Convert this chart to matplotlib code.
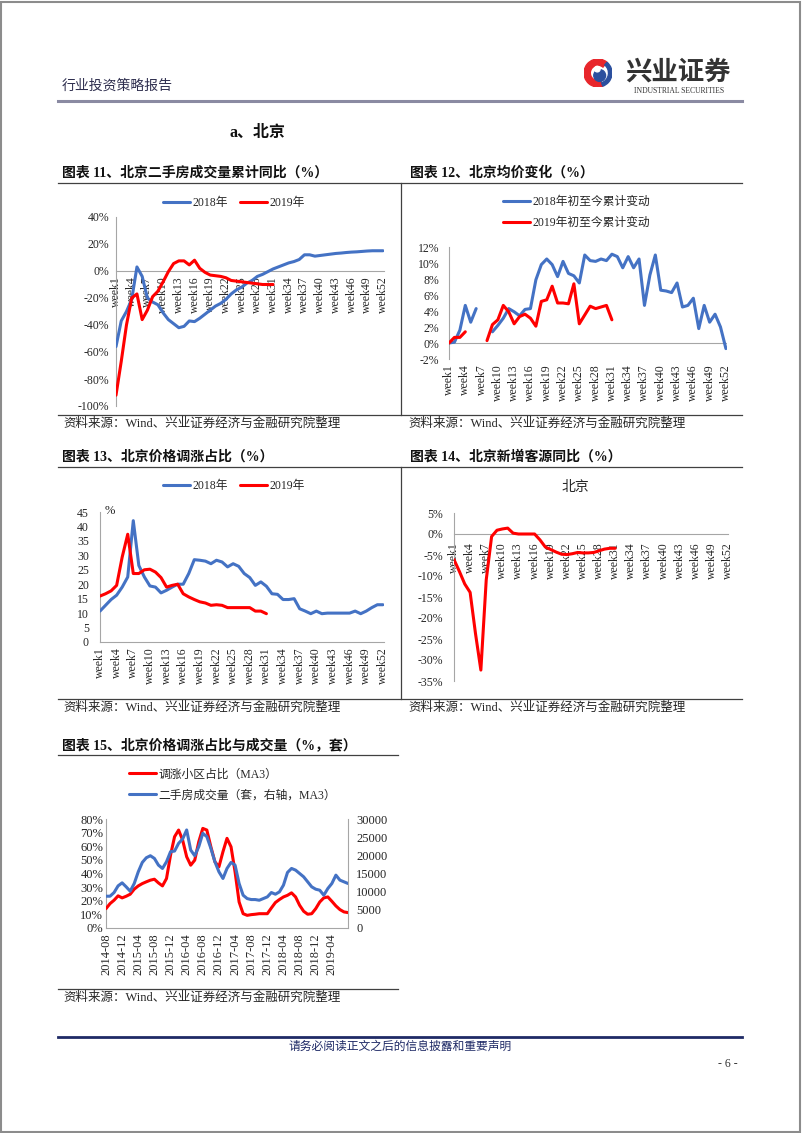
import numpy as np
import pandas as pd
import matplotlib
matplotlib.use('Agg')
import matplotlib.pyplot as plt
from matplotlib.lines import Line2D
from matplotlib.patches import Rectangle, Wedge, Circle
from matplotlib.ticker import FuncFormatter

plt.rcParams['font.family'] = ['Liberation Serif', 'Noto Sans CJK SC']
plt.rcParams['axes.unicode_minus'] = False

W, H = 802, 1133
BLUE = '#4472C4'
RED = '#FF0000'
AXC = '#A6A6A6'
TXT = '#262626'
nan = np.nan

# week categories
weeks = np.arange(1, 53)
week_ticks = np.arange(1, 53, 3)
week_labels = ['week%d' % w for w in week_ticks]

# chart 11: cumulative yoy of second-hand deals (%)
c11_2018 = [-56, -37, -30, -21, 3, -4, -20, -23, -25, -31, -36, -39, -42, -41, -37, -37.5,
            -35, -32, -29, -26, -24, -21, -17, -14, -12, -9, -7, -4, -2.5, -0.5, 1.5, 3,
            4.5, 6, 7, 8.5, 12, 12, 11, 11.5, 12, 12.5, 13, 13.3, 13.7, 14, 14.2, 14.5,
            14.8, 15, 15, 15]
c11_2019 = [-92, -67, -40, -20, -17, -36, -29, -19, -15, -8, -0.5, 5.5, 7.5, 7.5, 4.5, 8,
            2, -1, -3, -3.5, -4, -5, -7, -7.5, -8, -8.5, -9, -9.5, -10, -10, -10]

# chart 12: average price change since start of year (%)
c12_2018 = [0, 0.1, 1.6, 4.7, 2.6, 4.3, nan, nan, 1.4, 2.2, 3.1, 4.3, 3.9, 3.4, 4.2, 4.3,
            7.9, 9.8, 10.5, 9.8, 8.3, 10.2, 8.7, 8.4, 7.5, 11, 10.3, 10.2, 10.5, 10.3, 11.1,
            10.8, 9.4, 10.8, 9.4, 10.5, 4.7, 8.5, 11, 6.6, 6.5, 6.3, 7.5, 4.5, 4.7, 5.6,
            1.8, 4.7, 2.6, 3.6, 2.0, -0.7]
c12_2019 = [0, 0.7, 0.7, 1.4, nan, nan, nan, 0.3, 2.3, 2.9, 4.7, 3.9, 2.4, 3.3, 3.6, 3.1,
            2.1, 5.2, 5.4, 7.1, 5.0, 5.0, 4.9, 7.4, 2.4, 3.5, 4.6, 4.3, 4.5, 4.7, 2.9]

# chart 13: share of listings with price increase (%)
c13_2018 = [10.7, 12.7, 14.7, 16.2, 19, 22.5, 42, 26.5, 22.5, 19.4, 19, 17, 17.9, 19, 20,
            20, 23.7, 28.5, 28.3, 28, 27.1, 28.3, 27.7, 26, 27.1, 26.2, 23.7, 22.3, 19.6,
            20.8, 19.3, 16.7, 16.5, 14.7, 14.7, 15, 11.5, 10.7, 9.8, 10.7, 9.8, 10, 10, 10,
            10, 10, 10.7, 9.8, 10.7, 11.9, 12.9, 12.9]
c13_2019 = [15.9, 16.7, 17.7, 19.6, 29.4, 37.3, 23.7, 23.7, 25, 25.2, 24.2, 22.3, 19, 19.6,
            20, 16.7, 15.6, 14.7, 13.9, 13.5, 12.7, 12.9, 12.7, 11.9, 11.9, 11.9, 11.9,
            11.9, 10.7, 10.7, 9.8]

# chart 14: new buyers yoy (%)
c14_2019 = [-6.1, -8.9, -11.9, -13.9, -23.7, -32.4, -10.9, -0.6, 0.9, 1.2, 1.4, 0.2, 0, 0,
            0, 0, -1.4, -3.1, -3.7, -4.3, -4.8, -4.9, -4.7, -4.4, -4.5, -4.5, -4.4, -4.0,
            -3.6, -3.4, -3.4]

# chart 15: monthly, 2014-08 .. 2019-08
months = pd.date_range('2014-08-01', periods=61, freq='MS').strftime('%Y-%m').tolist()
rise_share = [14.2, 17.9, 20.4, 23.6, 22.1, 23.3, 24.8, 28.5, 30.9, 32.6, 33.9, 35.1, 35.8,
              33.1, 30.9, 36.3, 53.5, 67, 71.9, 64.5, 52.3, 46.1, 49.8, 63.3, 73.1, 71.9,
              59.6, 48.6, 44.9, 56, 65.8, 59.6, 41.2, 19.1, 10.5, 9.3, 9.8, 10.1, 10.5, 10.5,
              10.5, 14.7, 18.7, 20.9, 22.8, 24, 25.8, 22.8, 16.7, 12.3, 10.1, 10.5, 14.2,
              19.1, 22.1, 22.8, 19.6, 16.2, 13.5, 11.8, 11.3]
deals = [8750, 8750, 9760, 11600, 12430, 11330, 10130, 12250, 15470, 18050, 19340, 19890,
         19150, 17310, 16390, 18230, 21000, 21180, 23300, 24500, 26980, 21450, 19890, 22380,
         26060, 25140, 21920, 18230, 15470, 13630, 16390, 18050, 17310, 12250, 9020, 8100,
         7830, 7830, 7640, 8100, 8560, 9760, 9300, 9940, 11790, 15290, 16390, 15930, 15010,
         14090, 12710, 11330, 10680, 10400, 9020, 10870, 12250, 14550, 13170, 12710, 12250]

source = '资料来源：Wind、兴业证券经济与金融研究院整理'

fig = plt.figure(figsize=(W / 100, H / 100), dpi=100)


def add_ax(l, t, r, b):
    return fig.add_axes([l / W, 1 - b / H, (r - l) / W, (b - t) / H])


def hline(y, x0, x1, color='#404040', lw=0.9):
    fig.add_artist(Line2D([x0 / W, x1 / W], [1 - y / H, 1 - y / H], color=color, lw=lw,
                          transform=fig.transFigure))


def vline(x, y0, y1, color='#404040', lw=0.9):
    fig.add_artist(Line2D([x / W, x / W], [1 - y0 / H, 1 - y1 / H], color=color, lw=lw,
                          transform=fig.transFigure))


def ftext(x, y, s, **kw):
    kw.setdefault('va', 'center')
    fig.text(x / W, 1 - y / H, s, **kw)


def style_ax(ax, ypad, xpad, size=8.5):
    for s in ['top', 'right']:
        ax.spines[s].set_visible(False)
    ax.spines['left'].set_color(AXC)
    ax.spines['bottom'].set_color(AXC)
    ax.tick_params(length=0, colors=TXT, labelsize=size)
    ax.tick_params(axis='y', pad=ypad)
    ax.tick_params(axis='x', pad=xpad, labelrotation=90)
    ax.set_axisbelow(True)
    ax.patch.set_alpha(0)


def add_legend(ax, x, y, ncol, handles=None, labelspacing=0.8, columnspacing=1.0):
    kw = dict(loc='center left', bbox_to_anchor=(x / W, 1 - y / H),
              bbox_transform=fig.transFigure, ncol=ncol, frameon=False, fontsize=8.5,
              handlelength=2.3, handletextpad=0.2, columnspacing=columnspacing,
              labelspacing=labelspacing, borderpad=0, borderaxespad=0)
    if handles is not None:
        kw['handles'] = handles
    leg = ax.legend(**kw)
    for t in leg.get_texts():
        t.set_color(TXT)


pct = FuncFormatter(lambda v, p: '%d%%' % v)
line_kw = dict(lw=2.2, solid_joinstyle='round', solid_capstyle='round', zorder=3)

# ---------------- page frame, header, footer ----------------
fig.add_artist(Rectangle((0.001, 0.001), 0.997, 0.997, fill=False, edgecolor='#8c8c8c',
                         lw=1.5, transform=fig.transFigure))
ftext(62, 86, '行业投资策略报告', fontsize=10, color='#2f2f4f')
hline(101, 58, 742, color='#8a8aa2', lw=2.2)

# logo
lax = add_ax(584, 59, 612, 87)
lax.set_xlim(-1, 1)
lax.set_ylim(-1, 1)
lax.set_aspect('equal')
lax.axis('off')
lax.add_patch(Wedge((0, 0), 1, 50, 290, width=0.45, color='#e8262b'))
lax.add_patch(Wedge((0, 0), 1, -70, 50, width=0.25, color='#2b4f9e'))
lax.add_patch(Circle((0.12, -0.18), 0.42, color='#2b4f9e'))
lax.add_patch(Circle((-0.05, 0.28), 0.2, color='white'))
ftext(678, 72, '兴业证券', fontsize=19, fontweight='bold', color='#333333', ha='center')
ftext(679, 91, 'INDUSTRIAL SECURITIES', fontsize=5.5, color='#333333', ha='center')

ftext(230, 133, 'a、北京', fontsize=11.5, fontweight='bold', color='#111111')

hline(1037, 58, 742, color='#1f2a66', lw=2)
ftext(400, 1047, '请务必阅读正文之后的信息披露和重要声明', fontsize=8.5, color='#1f2a66',
      ha='center')
ftext(728, 1064, '- 6 -', fontsize=8.5, color='#333333', ha='center')

# section frames
for yt, yb, two in [(183, 415, True), (467, 699, True), (755, 989, False)]:
    x1 = 742 if two else 398
    hline(yt, 58, x1)
    hline(yb, 58, x1)
    if two:
        vline(401, yt, yb)
    ftext(63, yb + 9, source, fontsize=9, color=TXT)
    if two:
        ftext(408, yb + 9, source, fontsize=9, color=TXT)

title_kw = dict(fontsize=10, fontweight='bold', color='#111111')
ftext(62, 173, '图表 11、北京二手房成交量累计同比（%）', **title_kw)
ftext(410, 173, '图表 12、北京均价变化（%）', **title_kw)
ftext(62, 457, '图表 13、北京价格调涨占比（%）', **title_kw)
ftext(410, 457, '图表 14、北京新增客源同比（%）', **title_kw)
ftext(62, 745, '图表 15、北京价格调涨占比与成交量（%，套）', **title_kw)

# ---------------- chart 11 ----------------
ax = add_ax(116, 217, 384, 406)
ax.plot(weeks, c11_2018, color=BLUE, label='2018年', **line_kw)
ax.plot(weeks[:len(c11_2019)], c11_2019, color=RED, label='2019年', **line_kw)
ax.spines['bottom'].set_position(('data', 0))
ax.set_xlim(1, 52.2)
ax.set_ylim(-100, 40)
ax.set_yticks(np.arange(-100, 41, 20))
ax.yaxis.set_major_formatter(pct)
ax.set_xticks(week_ticks)
ax.set_xticklabels(week_labels)
style_ax(ax, 5, 4)
add_legend(ax, 163, 203, 2)

# ---------------- chart 12 ----------------
ax = add_ax(449, 247, 727, 359)
ax.plot(weeks, c12_2018, color=BLUE, label='2018年初至今累计变动', **line_kw)
ax.plot(weeks[:len(c12_2019)], c12_2019, color=RED, label='2019年初至今累计变动', **line_kw)
ax.axhline(0, color=AXC, lw=0.8, zorder=1)
ax.set_xlim(1, 52.2)
ax.set_ylim(-2, 12)
ax.set_yticks(np.arange(-2, 13, 2))
ax.yaxis.set_major_formatter(pct)
ax.set_xticks(week_ticks)
ax.set_xticklabels(week_labels)
style_ax(ax, 7, 4)
ax.spines['bottom'].set_visible(False)
add_legend(ax, 503, 212.5, 1, labelspacing=0.75)

# ---------------- chart 13 ----------------
ax = add_ax(100, 512, 384, 642)
ax.plot(weeks, c13_2018, color=BLUE, label='2018年', **line_kw)
ax.plot(weeks[:len(c13_2019)], c13_2019, color=RED, label='2019年', **line_kw)
ax.set_xlim(1, 52.2)
ax.set_ylim(0, 45)
ax.set_yticks(np.arange(0, 46, 5))
ax.set_xticks(week_ticks)
ax.set_xticklabels(week_labels)
style_ax(ax, 8, 4)
add_legend(ax, 163, 486, 2)
ftext(105, 511, '%', fontsize=9, color=TXT)

# ---------------- chart 14 ----------------
ax = add_ax(454, 513, 728, 681)
ax.plot(weeks[:len(c14_2019)], c14_2019, color=RED, **line_kw)
ax.spines['bottom'].set_position(('data', 0))
ax.set_xlim(1, 52)
ax.set_ylim(-35, 5)
ax.set_yticks(np.arange(-35, 6, 5))
ax.yaxis.set_major_formatter(pct)
ax.set_xticks(week_ticks)
ax.set_xticklabels(week_labels)
style_ax(ax, 8, 6)
ftext(575, 487, '北京', fontsize=10, color=TXT, ha='center')

# ---------------- chart 15 ----------------
x15 = np.arange(len(months))
ax = add_ax(106, 819, 348, 928)
ax2 = ax.twinx()
l1, = ax.plot(x15, rise_share, color=RED, label='调涨小区占比（MA3）', **line_kw)
l2, = ax2.plot(x15, deals, color=BLUE, label='二手房成交量（套，右轴，MA3）', **line_kw)
ax.set_xlim(0, len(months) - 1)
ax.set_ylim(0, 80)
ax.set_yticks(np.arange(0, 81, 10))
ax.yaxis.set_major_formatter(pct)
ax.set_xticks(x15[:57:4])
ax.set_xticklabels(months[:57:4])
style_ax(ax, 2, 4, size=9)
ax2.set_ylim(0, 30000)
ax2.set_yticks(np.arange(0, 30001, 5000))
for s in ['top', 'left', 'bottom']:
    ax2.spines[s].set_visible(False)
ax2.spines['right'].set_color(AXC)
ax2.tick_params(length=0, colors=TXT, labelsize=9, pad=6)
add_legend(ax2, 129, 785, 1, handles=[l1, l2], labelspacing=0.75)

fig.savefig('out.png', dpi=100)
